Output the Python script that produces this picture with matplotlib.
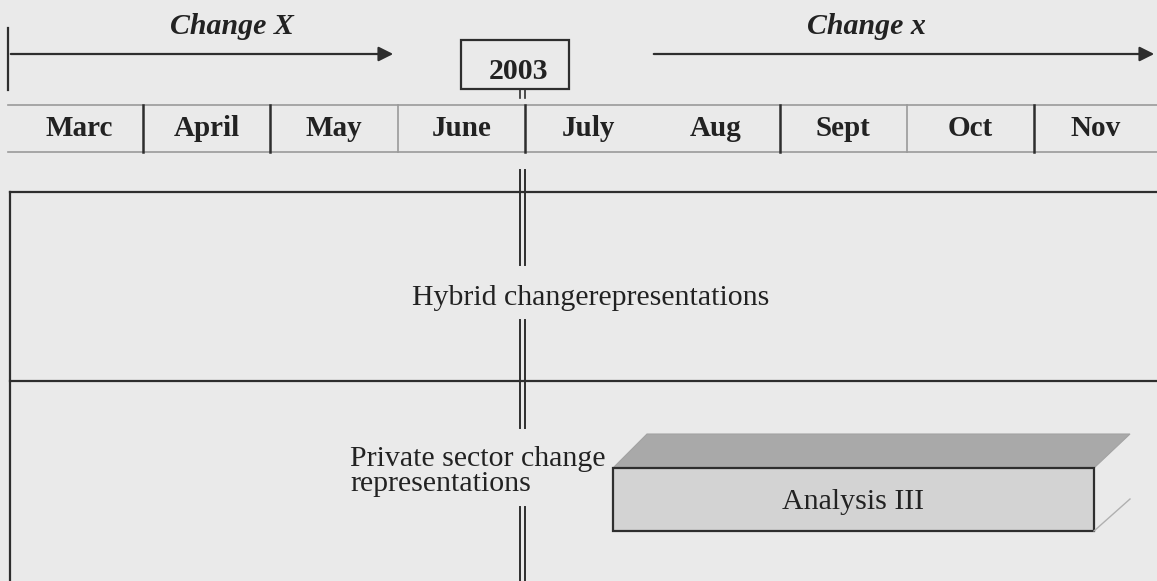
import matplotlib.pyplot as plt
from matplotlib.patches import Polygon, Rectangle

# timeline content
months = ['Marc', 'April', 'May', 'June', 'July', 'Aug', 'Sept', 'Oct', 'Nov']
dark_seps = [1, 2, 4, 6, 8]
light_seps = [3, 7]
year_label = '2003'
arrow_labels = ['Change X', 'Change x']
hybrid_label = 'Hybrid changerepresentations'
private_lines = ['Private sector change', 'representations']
box_label = 'Analysis III'

W, H = 1157, 581
BG = '#eaeaea'
DARK = '#2e2e2e'
LIGHT = '#9a9a9a'
TXT = '#222222'


def mx(i):
    # left edge of month i, in pixels
    return 15.7 + 127.3 * i


def main():
    plt.rcParams['font.family'] = ['Liberation Serif', 'DejaVu Serif']
    fig = plt.figure(figsize=(W / 100, H / 100), dpi=100, facecolor=BG)
    ax = fig.add_axes([0, 0, 1, 1])
    ax.set_xlim(0, W)
    ax.set_ylim(H, 0)
    ax.axis('off')
    ax.set_facecolor(BG)

    # arrows at top
    ax.plot([8, 8], [28, 90], color=DARK, lw=1.6)
    ax.annotate('', xy=(396, 54), xytext=(8, 54),
                arrowprops=dict(arrowstyle='-|>', color=DARK, lw=1.6, mutation_scale=22))
    ax.annotate('', xy=(1157, 54), xytext=(651, 54),
                arrowprops=dict(arrowstyle='-|>', color=DARK, lw=1.6, mutation_scale=22))
    ax.text(232, 34, arrow_labels[0], ha='center', va='baseline', fontsize=21.5,
            fontweight='bold', fontstyle='italic', color=TXT)
    ax.text(866, 34, arrow_labels[1], ha='center', va='baseline', fontsize=21.5,
            fontweight='bold', fontstyle='italic', color=TXT)

    # year box
    ax.add_patch(Rectangle((461, 40), 108, 49, fill=False, ec=DARK, lw=1.6))
    ax.text(518, 79, year_label, ha='center', va='baseline', fontsize=21.5,
            fontweight='bold', color=TXT)
    ax.plot([520, 520], [89, 98], color=DARK, lw=1.2)
    ax.plot([524.5, 524.5], [89, 98], color=DARK, lw=1.2)

    # month row
    ax.plot([8, W], [105, 105], color=LIGHT, lw=1.2)
    ax.plot([8, W], [152, 152], color=LIGHT, lw=1.2)
    for i in dark_seps:
        ax.plot([mx(i), mx(i)], [105, 152], color=DARK, lw=1.8)
    for i in light_seps:
        ax.plot([mx(i), mx(i)], [105, 152], color=LIGHT, lw=1.2)
    for i, m in enumerate(months):
        cx = (max(mx(i), 8) + min(mx(i + 1), W)) / 2
        ax.text(cx, 136, m, ha='center', va='baseline', fontsize=21,
                fontweight='bold', color=TXT)

    # big frame
    ax.plot([10, W], [192, 192], color=DARK, lw=1.6)
    ax.plot([10, W], [381, 381], color=DARK, lw=1.6)
    ax.plot([10, 10], [192, H], color=DARK, lw=1.6)

    # central double line with gaps for text
    for y0, y1 in [(170, 265), (320, 428), (507, H)]:
        ax.plot([520, 520], [y0, y1], color=DARK, lw=1.4)
        ax.plot([524.5, 524.5], [y0, y1], color=DARK, lw=1.4)

    ax.text(591, 305, hybrid_label, ha='center', va='baseline', fontsize=21.5, color=TXT)
    ax.text(350, 466, private_lines[0], ha='left', va='baseline', fontsize=21.5, color=TXT)
    ax.text(350, 491, private_lines[1], ha='left', va='baseline', fontsize=21.5, color=TXT)

    # 3d box
    ax.add_patch(Polygon([(613, 468), (647, 434), (1130, 434), (1094, 468)],
                         closed=True, fc='#a9a9a9', ec='#a3a3a3', lw=0.8))
    ax.plot([1094, 1130], [531, 499], color='#b0b0b0', lw=1.0)
    ax.add_patch(Rectangle((613, 468), 481, 63, fc='#d3d3d3', ec=DARK, lw=1.6))
    ax.text(853, 509, box_label, ha='center', va='baseline', fontsize=21.5, color=TXT)

    fig.savefig('out.png', dpi=100, facecolor=BG)


if __name__ == '__main__':
    main()
